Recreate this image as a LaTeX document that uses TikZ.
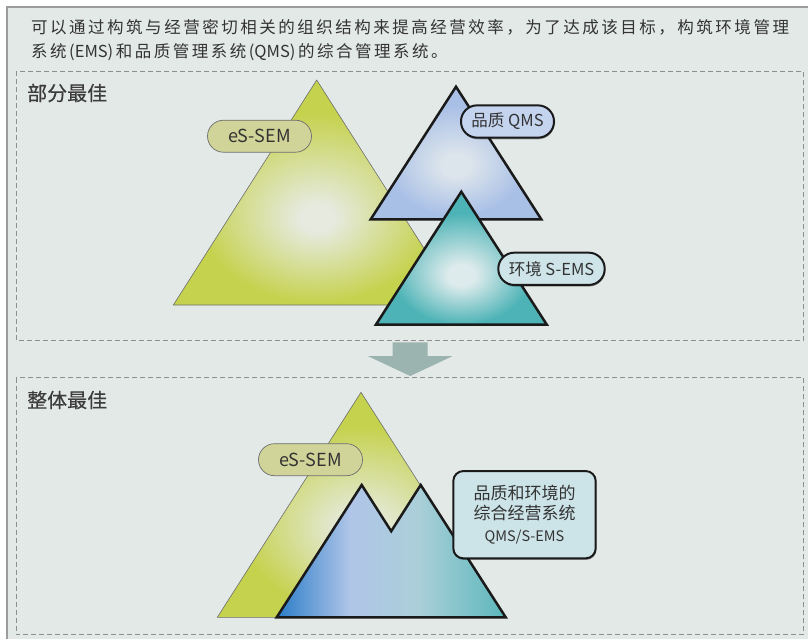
\documentclass[tikz,border=0pt]{standalone}
\usepackage{fontspec}
\setmainfont{Noto Sans CJK SC}
\newfontfamily\titlefont[LetterSpace=15.2]{Noto Sans CJK SC}
\newfontfamily\headfont[FakeBold=0.25]{Noto Sans CJK SC}
\usetikzlibrary{shadows}

\definecolor{framebg}{HTML}{E3E9E7}
\definecolor{framegray}{HTML}{9C9C9C}
\definecolor{dashgray}{HTML}{8E8E8E}
\definecolor{txt}{HTML}{333333}
\definecolor{headtxt}{HTML}{3C3C3C}
\definecolor{arrowcol}{HTML}{9BB4AF}
\definecolor{yglight}{HTML}{E6EADF}
\definecolor{ygdark}{HTML}{C5D24E}
\definecolor{bllight}{HTML}{DDE5EC}
\definecolor{bldark}{HTML}{A8BFE6}
\definecolor{tllight}{HTML}{DDEBEC}
\definecolor{tldark}{HTML}{4DB3B6}
\definecolor{mtA}{HTML}{2B7DC8}
\definecolor{mtB}{HTML}{B0C5E8}
\definecolor{mtC}{HTML}{AACFD9}
\definecolor{mtD}{HTML}{5CB7BB}
\definecolor{pillyg}{HTML}{D0D498}
\definecolor{pillbl}{HTML}{C4D3EE}
\definecolor{pilltl}{HTML}{CEE4E8}
\definecolor{boxtl}{HTML}{CCE3E8}
\definecolor{thinline}{HTML}{6E6E6E}
\definecolor{blackline}{HTML}{1A1A1A}

% TikZ maps the path's bounding box onto the central 50bp x 50bp of a shading
\pgfdeclareradialshading{ygshade}{\pgfpoint{0bp}{-6bp}}{color(0bp)=(yglight); color(3bp)=(yglight); color(21bp)=(ygdark); color(50bp)=(ygdark)}
\pgfdeclareradialshading{blshade}{\pgfpoint{0bp}{-5bp}}{color(0bp)=(bllight); color(4bp)=(bllight); color(21bp)=(bldark); color(50bp)=(bldark)}
\pgfdeclareradialshading{tlshade}{\pgfpoint{0bp}{-7bp}}{color(0bp)=(tllight); color(4bp)=(tllight); color(21bp)=(tldark); color(50bp)=(tldark)}
\pgfdeclarehorizontalshading{mtshade}{100bp}{color(0bp)=(mtA); color(25bp)=(mtA); color(41bp)=(mtB); color(56bp)=(mtC); color(75bp)=(mtD); color(100bp)=(mtD)}

\newcommand{\lat}[1]{{\fontsize{16.5}{25}\selectfont\normalfont #1}}

\begin{document}
\begin{tikzpicture}[x=1pt,y=-1pt,
  dashbox/.style={draw=dashgray, line width=0.9pt, dash pattern=on 5pt off 3pt},
  head/.style={anchor=west, inner sep=0pt, text=headtxt, font=\fontsize{20}{24}\headfont},
  titletext/.style={anchor=west, inner sep=0pt, text=txt, font=\fontsize{16.5}{25}\titlefont},
  thintri/.style={draw=thinline, line width=0.6pt},
  boldtri/.style={draw=blackline, line width=2.5pt, line join=miter},
  pill/.style={rounded corners=16pt, inner sep=0pt, text=txt, align=center},
  softpill/.style={pill, draw=thinline, line width=0.7pt, fill=pillyg, minimum width=104pt, minimum height=32pt, font=\fontsize{18}{20}\selectfont},
  hardpill/.style={pill, draw=blackline, line width=2pt, minimum height=32.3pt, font=\fontsize{16.5}{20}\selectfont,
    drop shadow={shadow xshift=0.6pt, shadow yshift=-1.6pt, opacity=0.35, fill=black}},
  arrowshape/.style={fill=arrowcol}
]
\useasboundingbox (0,0) rectangle (808,638);
\fill[white] (0,0) rectangle (808,638);
\draw[framegray, line width=1.5pt, fill=framebg] (7,7) rectangle (830,660);

% title
\node[titletext] (t1) at (31,27.5) {可以通过构筑与经营密切相关的组织结构来提高经营效率，为了达成该目标，构筑环境管理};
\node[titletext] (t2) at (31,52.5) {系统(\lat{EMS})和品质管理系统(\lat{QMS})的综合管理系统。};

% sections
\draw[dashbox] (16,71) rectangle (803.7,340);
\draw[dashbox] (16,377.7) rectangle (803.7,634.7);
\node[head] (h1) at (27,93) {部分最佳};
\node[head] (h2) at (27,400) {整体最佳};

% top section triangles
\path[thintri, shading=ygshade] (316.7,80) -- (460.1,305) -- (173.3,305) -- cycle;
\path[boldtri, shading=blshade] (456,86.7) -- (541.3,219.3) -- (370.7,219.3) -- cycle;
\path[boldtri, shading=tlshade] (461.3,191.7) -- (546.7,324.5) -- (376,324.5) -- cycle;

\node[softpill] (sem1) at (259.5,136.2) {eS-SEM};
\node[hardpill, fill=pillbl, minimum width=93pt] (qms) at (507.5,121.5) {品质 QMS};
\node[hardpill, fill=pilltl, minimum width=106.4pt] (ems) at (551.5,268.8) {环境 S-EMS};

% arrow
\path[arrowshape] (392.7,342.3) -- (427.7,342.3) -- (427.7,356) -- (452.7,356) -- (410.2,376) -- (367.7,356) -- (392.7,356) -- cycle;

% bottom section
\path[thintri, shading=ygshade] (361,392.3) -- (504.7,617.3) -- (217.3,617.3) -- cycle;
\path[boldtri, shading=mtshade] (276.7,617.3) -- (361.7,485) -- (391.2,531.2) -- (420.7,485) -- (505.7,617.3) -- cycle;

\node[softpill] (sem2) at (310.5,459.7) {eS-SEM};
\node[hardpill, fill=boxtl, rounded corners=10pt, minimum width=142.4pt, minimum height=87.3pt, font=\fontsize{17}{20}\selectfont] (qe) at (524.5,514.7)
  {品质和环境的\\综合经营系统\\[2pt]{\fontsize{14.5}{17}\selectfont QMS/S-EMS}};
\end{tikzpicture}
\end{document}
